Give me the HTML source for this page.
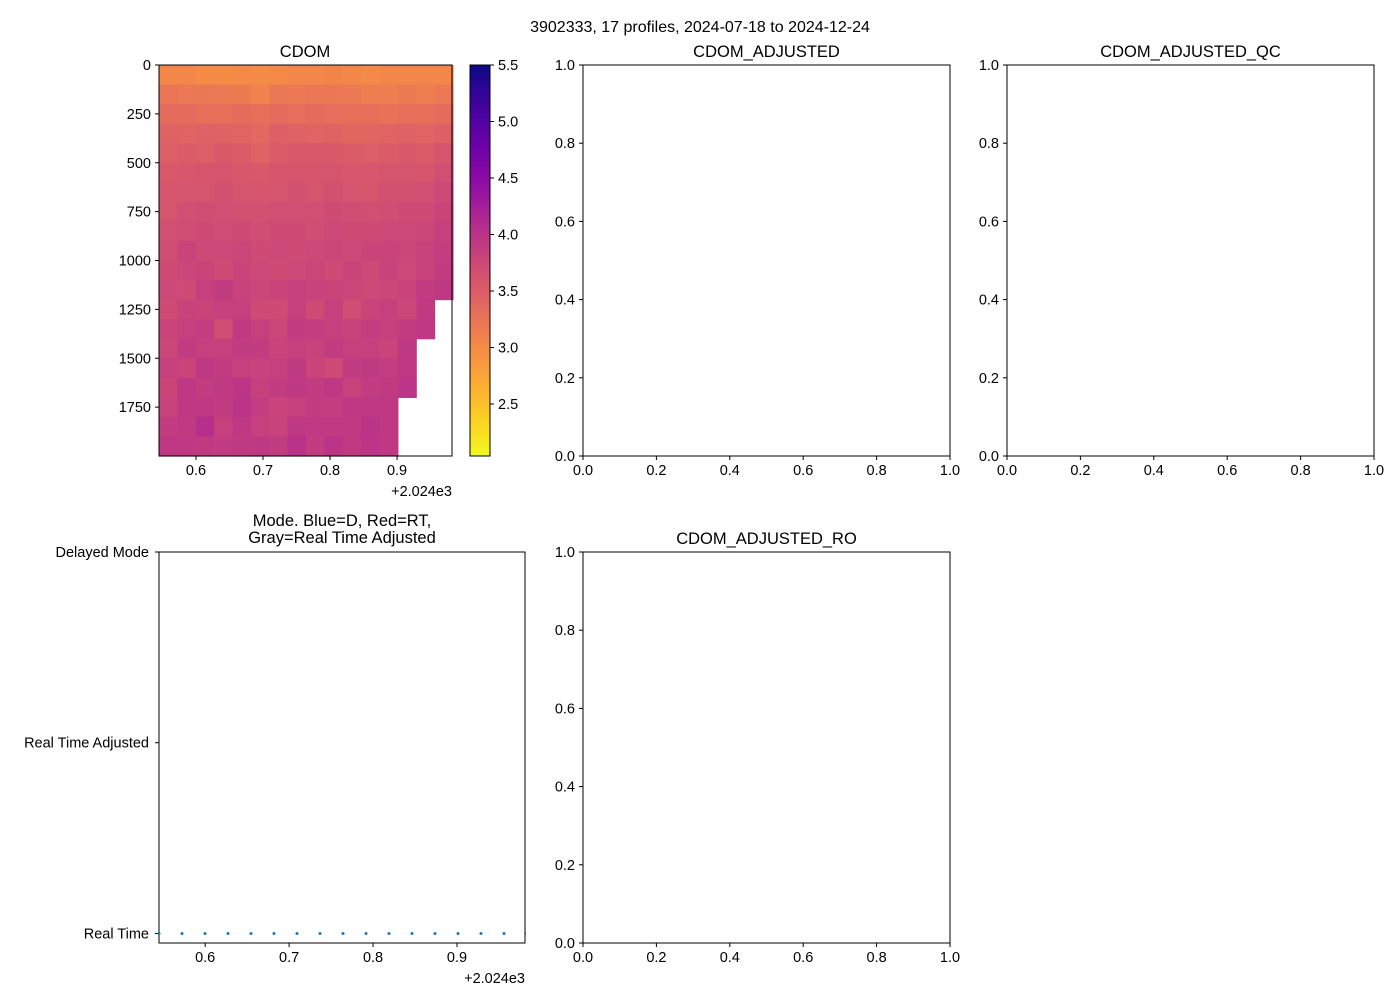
<!DOCTYPE html>
<html><head><meta charset="utf-8">
<style>
body{margin:0;background:#fff;}
svg text{font-family:"Liberation Sans","DejaVu Sans",sans-serif;fill:#000;}
</style></head>
<body>
<svg id="fig" width="1400" height="1000" xmlns="http://www.w3.org/2000/svg">
<defs><clipPath id="modeclip"><rect x="155" y="548" width="371" height="399"/></clipPath></defs>
<text x="700" y="32" font-size="16" text-anchor="middle">3902333, 17 profiles, 2024-07-18 to 2024-12-24</text>
<g id="g"></g>
</svg>
<script>
// ---- data ----
const profileDates = [0.545,0.5724,0.5998,0.6272,0.6546,0.682,0.7094,0.7368,0.7642,0.7916,0.819,0.8464,0.8738,0.9012,0.9286,0.956,0.9834];
const depthBins = [0,100,200,300,400,500,600,700,800,900,1000,1100,1200,1300,1400,1500,1600,1700,1800,1900,2000];
const maxDepth = [2000,2000,2000,2000,2000,2000,2000,2000,2000,2000,2000,2000,2000,1700,1400,1200];
const cdomCols = [
 [3.05,3.25,3.35,3.45,3.5,3.55,3.6,3.62,3.68,3.7,3.72,3.75,3.72,3.8,3.78,3.85,3.8,3.82,3.9,3.95],
 [3.05,3.2,3.35,3.42,3.52,3.58,3.62,3.68,3.7,3.8,3.78,3.72,3.82,3.85,3.9,3.8,3.95,3.95,3.92,3.95],
 [3.0,3.22,3.3,3.45,3.5,3.6,3.62,3.7,3.72,3.75,3.8,3.85,3.8,3.88,3.85,3.95,3.9,3.95,4.05,3.92],
 [3.0,3.2,3.32,3.45,3.55,3.6,3.65,3.68,3.7,3.75,3.72,3.9,3.85,3.7,3.85,3.9,3.92,3.9,3.85,3.9],
 [3.02,3.18,3.35,3.42,3.52,3.58,3.62,3.65,3.72,3.78,3.8,3.82,3.85,3.92,3.9,3.85,3.98,4.0,3.95,3.92],
 [3.0,3.1,3.3,3.38,3.45,3.55,3.6,3.65,3.7,3.72,3.75,3.78,3.72,3.85,3.9,3.82,3.85,3.88,3.85,3.95],
 [3.02,3.22,3.35,3.48,3.52,3.6,3.62,3.68,3.72,3.75,3.72,3.8,3.72,3.78,3.8,3.85,3.9,3.8,3.82,3.9],
 [3.05,3.2,3.32,3.45,3.55,3.6,3.65,3.68,3.72,3.72,3.75,3.85,3.85,3.9,3.85,3.92,3.95,3.85,3.95,4.02],
 [3.05,3.22,3.35,3.42,3.55,3.6,3.62,3.68,3.7,3.75,3.78,3.82,3.72,3.88,3.82,3.8,3.9,3.9,3.92,3.9],
 [3.08,3.22,3.32,3.45,3.55,3.62,3.65,3.72,3.75,3.78,3.72,3.8,3.85,3.85,3.9,3.72,3.95,3.88,3.92,4.0],
 [3.05,3.2,3.3,3.4,3.52,3.58,3.62,3.7,3.72,3.75,3.8,3.78,3.7,3.82,3.85,3.9,3.82,3.95,3.92,3.92],
 [3.02,3.15,3.3,3.4,3.5,3.58,3.6,3.68,3.72,3.8,3.75,3.75,3.8,3.88,3.85,3.92,3.9,3.95,4.0,3.98],
 [3.05,3.15,3.28,3.42,3.52,3.62,3.65,3.7,3.75,3.8,3.82,3.78,3.85,3.85,3.8,3.88,3.92,3.95,3.95,3.95],
 [3.05,3.18,3.3,3.45,3.55,3.62,3.65,3.72,3.75,3.78,3.75,3.8,3.78,3.9,3.95,3.95,3.98],
 [3.05,3.15,3.3,3.42,3.52,3.6,3.68,3.72,3.78,3.82,3.82,3.9,3.92,3.95],
 [3.05,3.2,3.35,3.48,3.6,3.68,3.75,3.8,3.85,3.88,3.9,3.95]
];
const cbarTicks = [2.5,3.0,3.5,4.0,4.5,5.0,5.5];
const depthTicks = [0,250,500,750,1000,1250,1500,1750];
const dateTicks = [0.6,0.7,0.8,0.9];
const unitTicks = [0,0.2,0.4,0.6,0.8,1.0];
const modeLabels = ["Real Time","Real Time Adjusted","Delayed Mode"];
const modeValues = [0,0,0,0,0,0,0,0,0,0,0,0,0,0,0,0,0];

const NS="http://www.w3.org/2000/svg", G=document.getElementById('g');
const TF=14.5, TT=16.5;
function el(tag,attrs,parent){const e=document.createElementNS(NS,tag);for(const k in attrs)e.setAttribute(k,attrs[k]);(parent||G).appendChild(e);return e;}
function txt(x,y,s,size,anchor,parent){const t=el('text',{x:x,y:y,'font-size':size,'text-anchor':anchor},parent);t.textContent=s;return t;}

const stops=["#0d0887","#41049d","#6a00a8","#8f0da4","#b12a90","#cc4778","#e16462","#f2844b","#fca636","#fcce25","#f0f921"];
function hex(c){return [1,3,5].map(i=>parseInt(c.substr(i,2),16));}
function plasma(t){t=Math.max(0,Math.min(1,t));const p=t*10,i=Math.min(9,Math.floor(p)),f=p-i;const a=hex(stops[i]),b=hex(stops[i+1]);return 'rgb('+a.map((v,k)=>Math.round(v+(b[k]-v)*f)).join(',')+')';}
const vmin=2.04,vmax=5.5;
function cmap(v){return plasma(1-(v-vmin)/(vmax-vmin));}

function frame(x0,y0,x1,y1,name){el('rect',{x:x0,y:y0,width:x1-x0,height:y1-y0,fill:'none',stroke:'#000','stroke-width':1,});}

// ---- CDOM heatmap ----
const hx0=159,hx1=452,hy0=65,hy1=456;
const xd0=0.5448,xd1=0.982;
const hX=d=>hx0+(d-xd0)/(xd1-xd0)*(hx1-hx0);
const hY=p=>hy0+p/2000*(hy1-hy0);
const hm=el('g',{});
cdomCols.forEach((col,ci)=>{
  col.forEach((v,bi)=>{
    const x0=hX(profileDates[ci]),x1=hX(profileDates[ci+1]);
    const y0=hY(depthBins[bi]),y1=hY(Math.min(depthBins[bi+1],maxDepth[ci]));
    const r=el('rect',{x:x0,y:y0,width:x1-x0+0.6,height:y1-y0+0.6,fill:cmap(v)},hm);
    
    
  });
});
frame(hx0,hy0,hx1,hy1,'cdom-axes');
txt(305,57,'CDOM',TT,'middle');
depthTicks.forEach(p=>{const y=hY(p);el('line',{x1:hx0-4,x2:hx0,y1:y,y2:y,stroke:'#000'});txt(hx0-8,y+5,String(p),TF,'end');});
dateTicks.forEach(d=>{const x=hX(d);el('line',{x1:x,x2:x,y1:hy1,y2:hy1+4,stroke:'#000'});txt(x,hy1+19,d.toFixed(1),TF,'middle');});
txt(452,496,'+2.024e3',TF,'end');

// colorbar
const cx0=470,cx1=490;
const cY=v=>hy1-(v-vmin)/(vmax-vmin)*(hy1-hy0);
const cb=el('g',{});
for(let i=0;i<200;i++){const v0=vmin+(vmax-vmin)*i/200,v1=vmin+(vmax-vmin)*(i+1)/200;el('rect',{x:cx0,y:cY(v1),width:cx1-cx0,height:cY(v0)-cY(v1)+0.5,fill:cmap((v0+v1)/2)},cb);}
frame(cx0,hy0,cx1,hy1,'colorbar-frame');
cbarTicks.forEach(v=>{const y=cY(v);el('line',{x1:cx1,x2:cx1+4,y1:y,y2:y,stroke:'#000'});txt(cx1+8,y+5,v.toFixed(1),TF,'start');});

// ---- empty axes ----
function emptyAx(x0,y0,x1,y1,title,name){
  frame(x0,y0,x1,y1,name);
  const t=txt((x0+x1)/2,y0-8,title,TT,'middle');
  unitTicks.forEach(v=>{
    const x=x0+v*(x1-x0),y=y1-v*(y1-y0);
    el('line',{x1:x,x2:x,y1:y1,y2:y1+4,stroke:'#000'});txt(x,y1+19,v.toFixed(1),TF,'middle');
    el('line',{x1:x0-4,x2:x0,y1:y,y2:y,stroke:'#000'});txt(x0-8,y+5,v.toFixed(1),TF,'end');
  });
}
emptyAx(583,65,950,456,'CDOM_ADJUSTED','cdom-adjusted-axes');
emptyAx(1007,65,1374,456,'CDOM_ADJUSTED_QC','cdom-adjusted-qc-axes');
emptyAx(583,552,950,943,'CDOM_ADJUSTED_RO','cdom-adjusted-ro-axes');

// ---- mode plot ----
const mx0=159,mx1=525,my0=552,my1=943;
const mX=d=>mx0+(d-0.545)/(0.981-0.545)*(mx1-mx0);
const mY=v=>my1-(v+0.05)/2.05*(my1-my0);
frame(mx0,my0,mx1,my1,'mode-axes');
txt(342,526,'Mode. Blue=D, Red=RT,',TT,'middle');
txt(342,543,'Gray=Real Time Adjusted',TT,'middle');
modeLabels.forEach((s,i)=>{const y=mY(i);el('line',{x1:mx0-4,x2:mx0,y1:y,y2:y,stroke:'#000'});txt(mx0-10,y+5,s,TF,'end');});
dateTicks.forEach(d=>{const x=mX(d);el('line',{x1:x,x2:x,y1:my1,y2:my1+4,stroke:'#000'});txt(x,my1+19,d.toFixed(1),TF,'middle');});
txt(525,983,'+2.024e3',TF,'end');
const dots=el('g',{'clip-path':'url(#modeclip)',});
profileDates.forEach((d,i)=>{
  const c=el('circle',{cx:mX(d),cy:mY(modeValues[i]),r:1.5,fill:'#1f77b4'},dots);
  
  
});
</script>
</body></html>
